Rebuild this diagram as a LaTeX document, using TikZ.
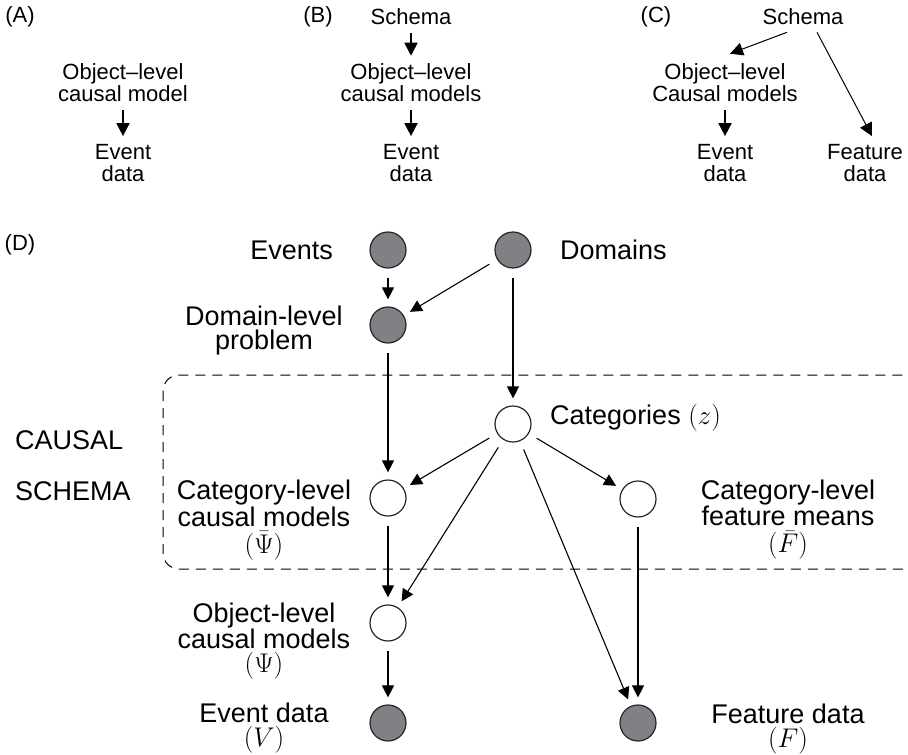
\RequirePackage{fix-cm}
\documentclass[tikz,border=0pt]{standalone}
\usepackage{fontspec}
\setmainfont{Liberation Sans}
\usetikzlibrary{arrows.meta}
\definecolor{obsgray}{RGB}{128,129,133}
\begin{document}
\begin{tikzpicture}[x=1pt,y=-1pt]
\tikzstyle{every node}=[inner sep=0pt, align=center]
\tikzstyle{small}=[font=\fontsize{22}{22}\selectfont]
\tikzstyle{big}=[font=\fontsize{27}{24}\selectfont]
\tikzstyle{obs}=[circle, draw=black!85, line width=1.2pt, fill=obsgray, minimum size=36pt]
\tikzstyle{lat}=[circle, draw=black!85, line width=1.2pt, fill=white, minimum size=36pt]
\tikzstyle{toparr}=[-{Triangle[length=13pt,width=13pt]}, line width=1.8pt, shorten <=8pt, shorten >=8pt]
\tikzstyle{thinarr}=[-{Triangle[length=13pt,width=13pt]}, line width=1pt]
\tikzstyle{arr}=[-{Triangle[length=12pt,width=12pt]}, line width=1.1pt, shorten <=9pt, shorten >=7pt]
\tikzstyle{schemabox}=[dash pattern=on 10pt off 7pt, line width=1pt, rounded corners=16pt]
\useasboundingbox (0,0) rectangle (908,755);
\node[small] (panA) at (20,17) {(A)};
\node[small] (objA) at (123,83) {Object--level\\causal model};
\node[small] (evtA) at (123,163) {Event\\data};
\node[small] (panB) at (318,17) {(B)};
\node[small] (schemaB) at (411,17) {Schema};
\node[small] (objB) at (411,83) {Object--level\\causal models};
\node[small] (evtB) at (411,163) {Event\\data};
\node[small] (panC) at (656,17) {(C)};
\node[small] (schemaC) at (803,17) {Schema};
\node[small] (objC) at (725,83) {Object--level\\Causal models};
\node[small] (evtC) at (725,163) {Event\\data};
\node[small] (featC) at (865,163) {Feature\\data};
\draw[toparr] (objA) -- (evtA);
\draw[toparr] (schemaB) -- (objB);
\draw[toparr] (objB) -- (evtB);
\draw[toparr] (objC) -- (evtC);
\draw[thinarr] ([xshift=-16pt,yshift=-7pt]schemaC.south) -- ([xshift=5pt,yshift=10pt]objC.north);
\draw[thinarr] ([xshift=14pt,yshift=-7pt]schemaC.south) -- ([xshift=7pt,yshift=8pt]featC.north);
\node[small] (panD) at (20,245) {(D)};
\draw[schemabox] (163,375) rectangle (935,569);
\node[big, anchor=west] (causal) at (15,440) {CAUSAL};
\node[big, anchor=west] (schema) at (15,491) {SCHEMA};
\node[obs] (events) at (388,250) {};
\node[obs] (domains) at (513,250) {};
\node[obs] (dlp) at (388,325) {};
\node[lat] (cat) at (513,424) {};
\node[lat] (ccm) at (388,498) {};
\node[lat] (cfm) at (638,499) {};
\node[lat] (olm) at (388,623) {};
\node[obs] (evd) at (388,723) {};
\node[obs] (ftd) at (638,723) {};
\node[big, anchor=east] (evlbl) at (333,250) {Events};
\node[big, anchor=west] (domlbl) at (560,250) {Domains};
\node[big] (dlplbl) at (264,331) {Domain-level\\problem};
\node[big, anchor=west] (catlbl) at (550,418) {Categories $(z)$};
\node[big] (ccmlbl) at (264,520) {Category-level\\causal models\\[3pt]$(\bar{\Psi})$};
\node[big] (cfmlbl) at (788,520) {Category-level\\feature means\\[3pt]$(\bar{F})$};
\node[big] (olmlbl) at (264,641) {Object-level\\causal models\\$(\Psi)$};
\node[big] (evdlbl) at (264,728) {Event data\\$(V)$};
\node[big] (ftdlbl) at (788,729) {Feature data\\$(F)$};
\draw[arr] (events) -- (dlp);
\draw[arr] (domains) -- (dlp);
\draw[arr] (domains) -- (cat);
\draw[arr] (dlp) -- (ccm);
\draw[arr] (cat) -- (ccm);
\draw[arr] (cat) -- (olm);
\draw[arr] (cat) -- (ftd);
\draw[arr] (cat) -- (cfm);
\draw[arr] (cfm) -- (ftd);
\draw[arr] (ccm) -- (olm);
\draw[arr] (olm) -- (evd);
\end{tikzpicture}
\end{document}
